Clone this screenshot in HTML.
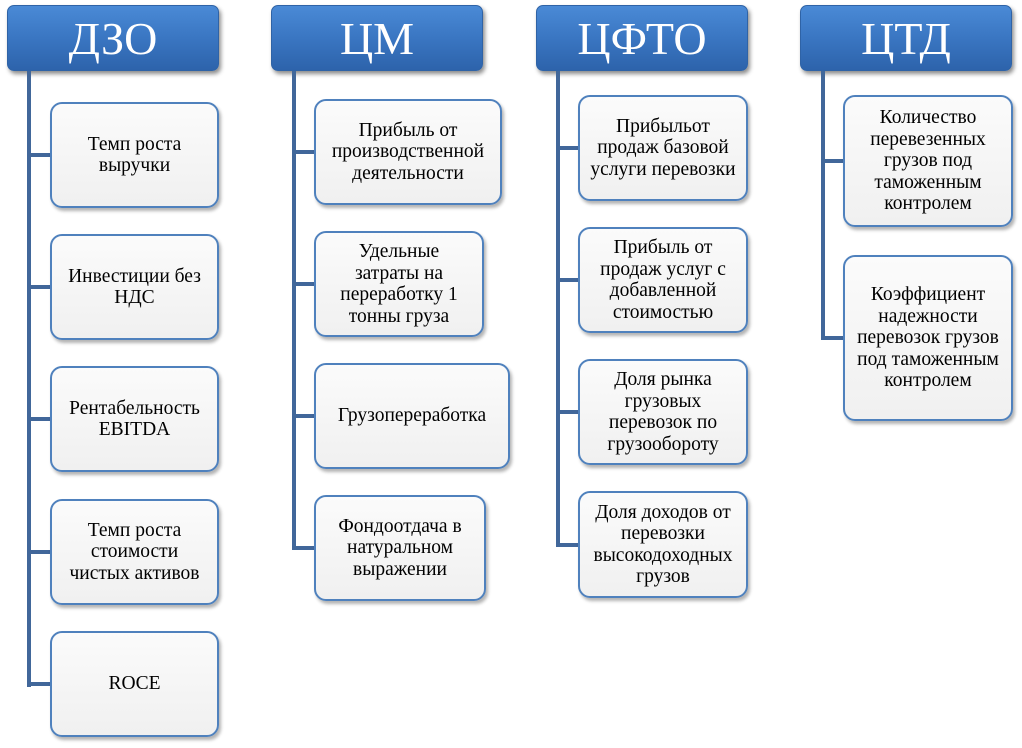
<!DOCTYPE html>
<html><head><meta charset="utf-8"><style>
body{margin:0;width:1022px;height:748px;background:#fff;position:relative;overflow:hidden;font-family:"Liberation Serif","DejaVu Serif",serif}
.h{position:absolute;height:66px;border-radius:7px;background:linear-gradient(#4a8ad6,#3a76c2 50%,#2d63ab);box-shadow:2px 3px 4px rgba(0,0,0,.45);color:#fff;font-size:46px;text-align:center;line-height:66px;border:1px solid #2f63a6;box-sizing:border-box}
.v{position:absolute;width:4px;background:#41679a}
.c{position:absolute;height:4px;background:#41679a}
.b{position:absolute;border:2px solid #4f81bd;border-radius:12px;background:linear-gradient(#fbfbfb,#f0f0f0);box-shadow:2px 3px 3px rgba(0,0,0,.3);box-sizing:border-box;display:flex;align-items:center;justify-content:center;text-align:center;font-size:19.5px;line-height:21.5px;color:#000;white-space:nowrap}
</style></head><body>
<div class="h" style="left:7px;top:5px;width:212px">ДЗО</div>
<div class="h" style="left:271px;top:5px;width:212px">ЦМ</div>
<div class="h" style="left:536px;top:5px;width:212px">ЦФТО</div>
<div class="h" style="left:800px;top:5px;width:212px">ЦТД</div>

<div class="v" style="left:27px;top:71px;height:616px"></div>
<div class="c" style="left:27px;top:153px;width:24px"></div>
<div class="c" style="left:27px;top:285px;width:24px"></div>
<div class="c" style="left:27px;top:417px;width:24px"></div>
<div class="c" style="left:27px;top:550px;width:24px"></div>
<div class="c" style="left:27px;top:682px;width:24px"></div>
<div class="b" style="left:50px;top:102px;width:169px;height:106px">Темп роста<br>выручки</div>
<div class="b" style="left:50px;top:234px;width:169px;height:106px">Инвестиции без<br>НДС</div>
<div class="b" style="left:50px;top:366px;width:169px;height:106px">Рентабельность<br>EBITDA</div>
<div class="b" style="left:50px;top:499px;width:169px;height:106px">Темп роста<br>стоимости<br>чистых активов</div>
<div class="b" style="left:50px;top:631px;width:169px;height:106px">ROCE</div>

<div class="v" style="left:292px;top:71px;height:479px"></div>
<div class="c" style="left:292px;top:150px;width:24px"></div>
<div class="c" style="left:292px;top:282px;width:24px"></div>
<div class="c" style="left:292px;top:414px;width:24px"></div>
<div class="c" style="left:292px;top:546px;width:24px"></div>
<div class="b" style="left:314px;top:99px;width:188px;height:106px">Прибыль от<br>производственной<br>деятельности</div>
<div class="b" style="left:314px;top:231px;width:170px;height:106px">Удельные<br>затраты на<br>переработку 1<br>тонны груза</div>
<div class="b" style="left:314px;top:363px;width:196px;height:106px">Грузопереработка</div>
<div class="b" style="left:314px;top:495px;width:172px;height:106px">Фондоотдача в<br>натуральном<br>выражении</div>

<div class="v" style="left:556px;top:71px;height:476px"></div>
<div class="c" style="left:556px;top:146px;width:24px"></div>
<div class="c" style="left:556px;top:278px;width:24px"></div>
<div class="c" style="left:556px;top:410px;width:24px"></div>
<div class="c" style="left:556px;top:543px;width:24px"></div>
<div class="b" style="left:578px;top:95px;width:170px;height:106px">Прибыльот<br>продаж базовой<br>услуги перевозки</div>
<div class="b" style="left:578px;top:227px;width:170px;height:106px">Прибыль от<br>продаж услуг с<br>добавленной<br>стоимостью</div>
<div class="b" style="left:578px;top:359px;width:170px;height:106px">Доля рынка<br>грузовых<br>перевозок по<br>грузообороту</div>
<div class="b" style="left:578px;top:491px;width:170px;height:107px">Доля доходов от<br>перевозки<br>высокодоходных<br>грузов</div>

<div class="v" style="left:821px;top:71px;height:269px"></div>
<div class="c" style="left:821px;top:159px;width:24px"></div>
<div class="c" style="left:821px;top:336px;width:24px"></div>
<div class="b" style="left:843px;top:95px;width:170px;height:132px">Количество<br>перевезенных<br>грузов под<br>таможенным<br>контролем</div>
<div class="b" style="left:843px;top:255px;width:170px;height:166px">Коэффициент<br>надежности<br>перевозок грузов<br>под таможенным<br>контролем</div>
</body></html>
